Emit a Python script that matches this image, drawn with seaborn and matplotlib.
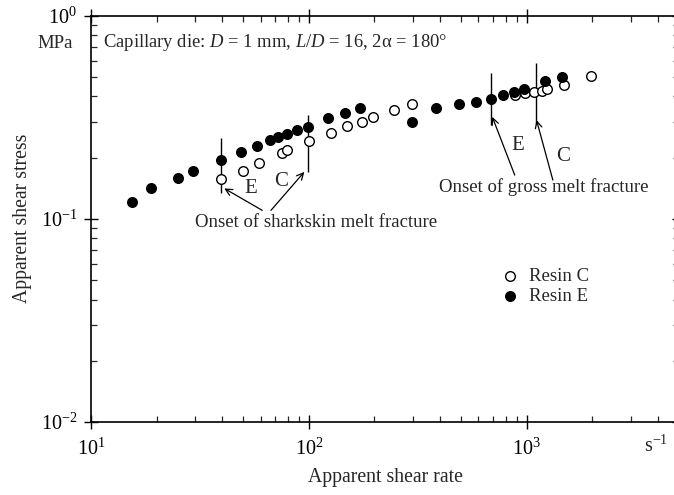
import matplotlib
matplotlib.use("Agg")
import matplotlib.pyplot as plt
import seaborn as sns
import pandas as pd
import numpy as np
from matplotlib.ticker import LogLocator, NullFormatter

# ---- data ----
resin_e_rate = [15.5, 18.8, 25.1, 29.5, 39.4, 48.7, 58, 66, 72, 79, 88, 98.6,
                123, 147, 171, 297, 385, 489, 583, 683, 778, 871, 968, 1218, 1456]
resin_e_stress = [0.121, 0.141, 0.158, 0.172, 0.194, 0.213, 0.228, 0.245, 0.252,
                  0.262, 0.272, 0.283, 0.312, 0.330, 0.349, 0.300, 0.351, 0.369,
                  0.376, 0.388, 0.406, 0.418, 0.435, 0.477, 0.501]
resin_c_rate = [39.4, 49.7, 59.2, 75.3, 79.7, 99.8, 126, 150, 175, 197, 247, 297,
                888, 980, 1081, 1176, 1240, 1479, 1968]
resin_c_stress = [0.156, 0.172, 0.189, 0.210, 0.218, 0.242, 0.265, 0.285, 0.300,
                  0.315, 0.342, 0.365, 0.406, 0.414, 0.418, 0.426, 0.433, 0.455, 0.506]
series_names = ["Resin C", "Resin E"]

df_c = pd.DataFrame({"rate": resin_c_rate, "stress": resin_c_stress})
df_e = pd.DataFrame({"rate": resin_e_rate, "stress": resin_e_stress})

sns.set_theme(style="ticks")
plt.rcParams["font.family"] = ["Liberation Serif", "DejaVu Serif"]
plt.rcParams["mathtext.fontset"] = "custom"
plt.rcParams["mathtext.rm"] = "Liberation Serif"
plt.rcParams["mathtext.it"] = "Liberation Serif:italic"
plt.rcParams["mathtext.bf"] = "Liberation Serif:bold"

W, H = 674, 495
fig = plt.figure(figsize=(W / 100, H / 100), dpi=100)
ax_left, ax_right, ax_top, ax_bot = 91, 679, 15.5, 422
ax = fig.add_axes([ax_left / W, (H - ax_bot) / H, (ax_right - ax_left) / W, (ax_bot - ax_top) / H])

ax.set_xscale("log")
ax.set_yscale("log")
ax.set_xlim(10, 5000)
ax.set_ylim(0.01, 1)

sns.scatterplot(data=df_c, x="rate", y="stress", ax=ax, marker="o", s=48,
                facecolor="white", edgecolor="black", linewidth=1.0,
                label=series_names[0], zorder=3)
sns.scatterplot(data=df_e, x="rate", y="stress", ax=ax, marker="o", s=48,
                color="black", edgecolor="black", linewidth=1.0,
                label=series_names[1], zorder=3)

# ---- onset markers ----
lw = 1.0
ax.vlines(39.4, 0.134, 0.249, color="black", lw=lw)
ax.vlines(98.6, 0.170, 0.323, color="black", lw=lw)
ax.vlines(689, 0.289, 0.519, color="black", lw=lw)
ax.vlines(1099, 0.294, 0.583, color="black", lw=lw)

arrow = dict(arrowstyle="->", lw=0.9, color="black", shrinkA=0, shrinkB=0,
             mutation_scale=12)
ax.annotate("", xy=(40.9, 0.141), xytext=(61.1, 0.110), arrowprops=arrow)
ax.annotate("", xy=(95.3, 0.170), xytext=(67.0, 0.110), arrowprops=arrow)
ax.annotate("", xy=(695, 0.317), xytext=(881, 0.164), arrowprops=arrow)
ax.annotate("", xy=(1109, 0.306), xytext=(1318, 0.155), arrowprops=arrow)

ax.text(108, 0.096, "Onset of sharkskin melt fracture", ha="center", va="center", fontsize=13.5)
ax.text(1197, 0.143, "Onset of gross melt fracture", ha="center", va="center", fontsize=13.5)
ax.text(54.2, 0.141, "E", ha="center", va="center", fontsize=15)
ax.text(74.5, 0.152, "C", ha="center", va="center", fontsize=15)
ax.text(912, 0.230, "E", ha="center", va="center", fontsize=15)
ax.text(1469, 0.2016, "C", ha="center", va="center", fontsize=15)

ax.text((103 - ax_left) / (ax_right - ax_left), (ax_bot - 42) / (ax_bot - ax_top),
        "Capillary die: $D$ = 1 mm, $L/D$ = 16, 2α = 180°",
        transform=ax.transAxes, ha="left", va="center", fontsize=13.4)

# units
fig.text(55.5 / W, 1 - 43.5 / H, "MPa", ha="center", va="center", fontsize=13.5)
fig.text(656 / W, 1 - 446 / H, "s$^{-1}$", ha="center", va="center", fontsize=14.5)

# ---- axes styling ----
for sp in ax.spines.values():
    sp.set_linewidth(1.2)
    sp.set_color("black")
ax.xaxis.set_major_locator(LogLocator(base=10, numticks=10))
ax.yaxis.set_major_locator(LogLocator(base=10, numticks=10))
ax.xaxis.set_minor_locator(LogLocator(base=10, subs=np.arange(2, 10), numticks=20))
ax.yaxis.set_minor_locator(LogLocator(base=10, subs=np.arange(2, 10), numticks=20))
ax.xaxis.set_minor_formatter(NullFormatter())
ax.yaxis.set_minor_formatter(NullFormatter())
ax.tick_params(which="major", direction="inout", length=10, width=1.0,
               top=True, right=True, labelsize=14.5, colors="black", pad=5)
ax.tick_params(which="minor", direction="in", length=4.5, width=0.9,
               top=True, right=True)
ax.tick_params(axis="x", which="major", pad=7)

ax.set_xlabel("Apparent shear rate", fontsize=14.2, labelpad=6)
ax.set_ylabel("Apparent shear stress", fontsize=14.2, labelpad=6)

leg = ax.legend(loc="upper left", bbox_to_anchor=(0.668, 0.397), frameon=False,
                fontsize=13.5, handletextpad=0.0, borderaxespad=0, labelspacing=0.15,
                markerscale=1.0)

fig.savefig("out.png", dpi=100)
